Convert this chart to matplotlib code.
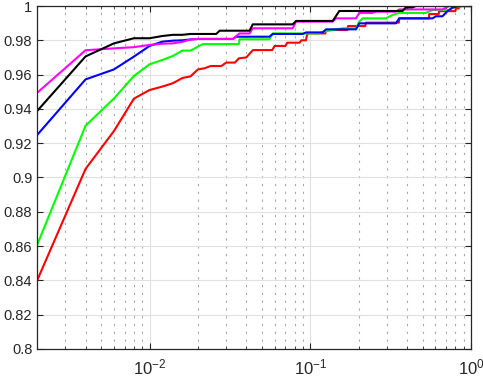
import numpy as np
import matplotlib
matplotlib.use('Agg')
import matplotlib.pyplot as plt
from matplotlib.ticker import LogLocator, NullFormatter, FixedLocator

plt.rcParams['font.family'] = ['Liberation Sans', 'DejaVu Sans']
plt.rcParams['mathtext.fontset'] = 'custom'
plt.rcParams['mathtext.rm'] = 'Liberation Sans'
plt.rcParams['mathtext.it'] = 'Liberation Sans'

# red curve
red_x = [0.002, 0.004, 0.006, 0.008, 0.010, 0.012, 0.014, 0.016, 0.018, 0.020,
         0.022, 0.024, 0.028, 0.030, 0.034, 0.036, 0.040, 0.044, 0.058, 0.060,
         0.070, 0.072, 0.086, 0.088, 0.094, 0.096, 0.124, 0.126, 0.170, 0.172,
         0.220, 0.222, 0.356, 0.358, 0.548, 0.550, 0.630, 0.634, 0.800, 0.806,
         0.840, 0.850, 1.0]
red_y = [0.840, 0.905, 0.927, 0.946, 0.951, 0.953, 0.955, 0.958, 0.959, 0.963,
         0.9637, 0.965, 0.965, 0.967, 0.967, 0.9695, 0.970, 0.9743, 0.9743, 0.9767,
         0.9767, 0.9786, 0.9786, 0.980, 0.980, 0.984, 0.984, 0.986, 0.986, 0.9883,
         0.9883, 0.9903, 0.9903, 0.9928, 0.9928, 0.9953, 0.9953, 0.997, 0.997, 0.9986,
         0.9986, 1.0, 1.0]

# green curve
green_x = [0.002, 0.004, 0.006, 0.008, 0.010, 0.012, 0.014, 0.016, 0.018, 0.020,
           0.0215, 0.036, 0.0363, 0.0557, 0.0585, 0.114, 0.1195, 0.159, 0.1927, 0.202,
           0.212, 0.296, 0.325, 0.358, 0.524, 0.577, 0.732, 0.767, 0.885, 1.0]
green_y = [0.8607, 0.9302, 0.946, 0.9592, 0.966, 0.9685, 0.9709, 0.974, 0.974, 0.9763,
           0.9778, 0.9778, 0.9806, 0.9806, 0.984, 0.984, 0.985, 0.987, 0.987, 0.9909,
           0.9928, 0.9928, 0.9948, 0.996, 0.996, 0.9977, 0.9977, 0.999, 1.0, 1.0]

# blue curve
blue_x = [0.002, 0.004, 0.006, 0.008, 0.010, 0.012, 0.014, 0.016, 0.018, 0.020,
          0.033, 0.0346, 0.0557, 0.0585, 0.0898, 0.0943, 0.1195, 0.1255, 0.1927, 0.202,
          0.341, 0.358, 0.577, 0.605, 0.665, 0.714, 0.767, 0.840, 1.0]
blue_y = [0.9248, 0.9572, 0.963, 0.9705, 0.9767, 0.9792, 0.9798, 0.980, 0.9805, 0.9808,
          0.9808, 0.9821, 0.9821, 0.9837, 0.9837, 0.9846, 0.9846, 0.9864, 0.9864, 0.9899,
          0.9899, 0.9928, 0.9928, 0.994, 0.994, 0.997, 0.999, 1.0, 1.0]

# magenta curve
mag_x = [0.002, 0.004, 0.006, 0.008, 0.010, 0.012, 0.014, 0.016, 0.018, 0.020,
         0.033, 0.0363, 0.0419, 0.0439, 0.0778, 0.0817, 0.138, 0.1448, 0.1927, 0.202,
         0.2445, 0.2565, 0.341, 0.358, 0.665, 0.698, 0.730, 1.0]
mag_y = [0.9494, 0.9742, 0.9753, 0.976, 0.9773, 0.978, 0.9782, 0.9791, 0.9805, 0.9808,
         0.9808, 0.984, 0.984, 0.987, 0.987, 0.9909, 0.9909, 0.9928, 0.9928, 0.996,
         0.996, 0.9967, 0.9967, 0.998, 0.998, 0.999, 1.0, 1.0]

# black curve
blk_x = [0.002, 0.004, 0.006, 0.008, 0.010, 0.012, 0.014, 0.016, 0.018, 0.020,
         0.026, 0.0273, 0.0419, 0.0439, 0.0778, 0.0817, 0.138, 0.1448, 0.1517, 0.375,
         0.394, 0.433, 0.454, 1.0]
blk_y = [0.9388, 0.9706, 0.9782, 0.9812, 0.9812, 0.9825, 0.9832, 0.9832, 0.9837, 0.9837,
         0.9837, 0.9856, 0.9856, 0.9893, 0.9893, 0.9913, 0.9913, 0.9942, 0.9971, 0.9971,
         0.9992, 0.9992, 1.0, 1.0]

y_ticks = [0.8, 0.82, 0.84, 0.86, 0.88, 0.9, 0.92, 0.94, 0.96, 0.98, 1.0]
y_labels = ['0.8', '0.82', '0.84', '0.86', '0.88', '0.9', '0.92', '0.94', '0.96', '0.98', '1']

fig = plt.figure(figsize=(4.83, 3.76), dpi=100)
ax = fig.add_axes([0.077, 0.072, 0.898, 0.912])

ax.plot(red_x, red_y, color=(1, 0, 0), linewidth=1.5)
ax.plot(green_x, green_y, color=(0, 1, 0), linewidth=1.5)
ax.plot(blue_x, blue_y, color=(0, 0, 1), linewidth=1.5)
ax.plot(mag_x, mag_y, color=(1, 0, 1), linewidth=1.5)
ax.plot(blk_x, blk_y, color=(0, 0, 0), linewidth=1.5)

ax.set_xscale('log')
ax.set_xlim(0.002, 1)
ax.set_ylim(0.8, 1)
ax.set_yticks(y_ticks)
ax.set_yticklabels(y_labels)
ax.xaxis.set_major_locator(FixedLocator([0.01, 0.1, 1]))
ax.set_xticklabels(['$10^{-2}$', '$10^{-1}$', '$10^{0}$'])
ax.xaxis.set_minor_locator(LogLocator(base=10, subs=np.arange(2, 10), numticks=20))
ax.xaxis.set_minor_formatter(NullFormatter())

ax.grid(True, which='major', color='#e0e0e0', linestyle='-', linewidth=0.8)
ax.grid(True, which='minor', axis='x', color='#a8a8a8', linestyle=(0, (2, 5)), linewidth=0.8)
ax.set_axisbelow(True)

ax.tick_params(which='both', direction='in', top=True, right=True, colors='#262626')
ax.tick_params(axis='y', labelsize=10.5)
ax.tick_params(axis='x', labelsize=12, pad=6)
ax.tick_params(which='major', length=4, width=0.8)
ax.tick_params(which='minor', length=2.5, width=0.6)
for s in ax.spines.values():
    s.set_color('#262626')
    s.set_linewidth(0.9)

fig.savefig('out.png', dpi=100)
